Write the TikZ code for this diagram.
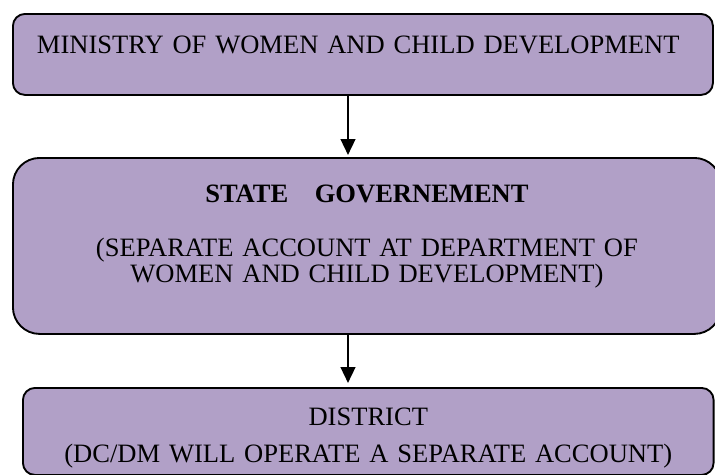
\documentclass[tikz,border=0pt]{standalone}
\usepackage{fontspec}
\setmainfont{Liberation Serif}
\usetikzlibrary{
  positioning,
  arrows.meta,
  calc
}
\definecolor{boxpurple}{HTML}{B1A0C7}
\tikzset{
  >={Triangle[length=12pt,width=11pt]},
  flow box/.style={
    draw=black,
    line width=1.4pt,
    fill=boxpurple,
    anchor=north west,
    inner xsep=#1,
    inner ysep=0pt,
    font=\fontsize{19.9pt}{19.5pt}\selectfont
  },
  flow arrow/.style={
    ->,
    line width=1.8pt
  }
}
\begin{document}
\begin{tikzpicture}[x=0.75pt,y=-0.75pt]
\useasboundingbox (0,0) rectangle (715,475);
% the three levels
\node[flow box=18pt, rounded corners=9pt, text width=489pt, align=left,
  text height=30pt, text depth=30.75pt] (ministry) at (12,13)
  {MINISTRY OF WOMEN AND CHILD DEVELOPMENT};
\node[flow box=10pt, rounded corners=20pt, text width=511pt, align=center,
  text height=33.75pt, text depth=98.25pt] (state) at (12,157)
  {\textbf{STATE\quad GOVERNEMENT}\\[21pt]
   (SEPARATE ACCOUNT AT DEPARTMENT OF\\
   WOMEN AND CHILD DEVELOPMENT)};
\node[flow box=10pt, rounded corners=9pt, text width=498pt, align=center,
  text height=28.5pt, text depth=36.75pt] (district) at (22,387)
  {DISTRICT\\[8.25pt]
   (DC/DM WILL OPERATE A SEPARATE ACCOUNT)};
% arrows between levels
\draw[flow arrow, shorten >=1.5pt] ($(ministry.south west)+(336,0)$) -- ($(state.north west)+(336,0)$);
\draw[flow arrow, shorten >=3pt] ($(state.south west)+(336,0)$) -- ($(district.north west)+(326,0)$);
\end{tikzpicture}
\end{document}
